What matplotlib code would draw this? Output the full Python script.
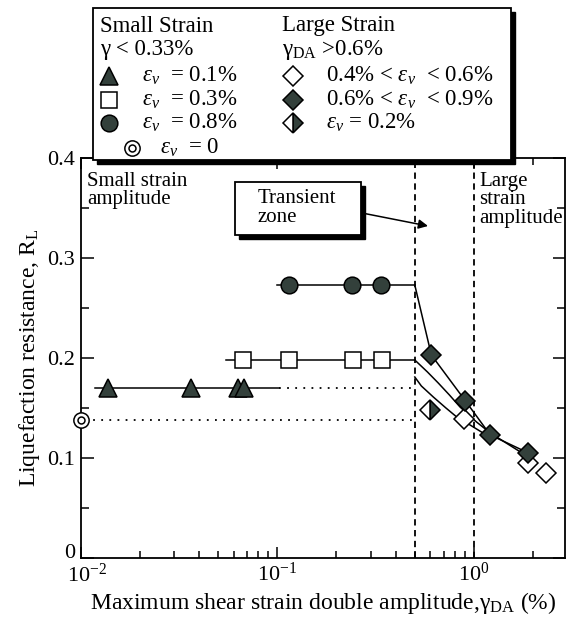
import numpy as np
import matplotlib
matplotlib.use("Agg")
import matplotlib.pyplot as plt
from matplotlib.patches import Rectangle
from matplotlib.transforms import ScaledTranslation
from matplotlib.ticker import LogLocator, MultipleLocator, FixedLocator, FixedFormatter

plt.rcParams['font.family'] = ['Liberation Serif', 'DejaVu Serif']
plt.rcParams['mathtext.fontset'] = 'custom'
plt.rcParams['mathtext.rm'] = 'Liberation Serif'
plt.rcParams['mathtext.it'] = 'Liberation Serif:italic'
plt.rcParams['mathtext.bf'] = 'Liberation Serif:bold'

DARK = '#33403b'

# small strain tests (gamma < 0.33%)
tri_x = [0.0138, 0.0366, 0.063, 0.068]
tri_y = [0.170, 0.170, 0.170, 0.170]
sq_x = [0.0671, 0.115, 0.243, 0.340]
sq_y = [0.198, 0.198, 0.198, 0.198]
circ_x = [0.1146, 0.241, 0.336]
circ_y = [0.273, 0.273, 0.273]
zero_x = [0.01]
zero_y = [0.138]

# fitted levels
tri_fit_x = [0.0119, 0.102]
tri_fit_y = [0.170, 0.170]
tri_dot_x = [0.102, 0.5]
tri_dot_y = [0.170, 0.170]
zero_dot_x = [0.0105, 0.5]
zero_dot_y = [0.138, 0.138]
sq_fit_x = [0.055, 0.5]
sq_fit_y = [0.198, 0.198]
circ_fit_x = [0.1, 0.5]
circ_fit_y = [0.273, 0.273]

# large strain tests (gamma_DA > 0.6%)
wd_x = [0.89, 1.89, 2.32]
wd_y = [0.139, 0.095, 0.085]
dd_x = [0.607, 0.905, 1.21, 1.89]
dd_y = [0.203, 0.157, 0.123, 0.105]
hd_x = [0.597]
hd_y = [0.148]

# decay curves in the large strain range
curve_a_x = [0.5, 0.607, 0.905, 1.21, 1.89]
curve_a_y = [0.273, 0.203, 0.157, 0.123, 0.105]
curve_b_x = [0.5, 0.58, 0.658, 0.75, 0.849, 1.03, 1.21, 1.89]
curve_b_y = [0.198, 0.186, 0.175, 0.163, 0.151, 0.136, 0.125, 0.101]
curve_c_x = [0.5, 0.54, 0.621, 0.72, 0.817, 0.955, 1.2]
curve_c_y = [0.181, 0.172, 0.161, 0.150, 0.141, 0.133, 0.121]

zone_x = [0.5, 1.0]

W, H = 566, 618
fig = plt.figure(figsize=(W / 100, H / 100), dpi=100)
ax = fig.add_axes([80.5 / W, 60 / H, (565 - 80.5) / W, 400 / H])

ax.set_xscale('log')
ax.set_xlim(0.01, 2.9)
ax.set_ylim(0, 0.4)

for xv in zone_x:
    ax.axvline(xv, color='black', lw=1.3, ls=(0, (3.5, 2.5)), zorder=1)

ax.plot(tri_dot_x, tri_dot_y, color='black', lw=1.3, ls=(0, (1, 3.5)), zorder=1)
ax.plot(zero_dot_x, zero_dot_y, color='black', lw=1.3, ls=(0, (1, 3.5)), zorder=1)
ax.plot(tri_fit_x, tri_fit_y, color='black', lw=1.1, zorder=2)
ax.plot(sq_fit_x, sq_fit_y, color='black', lw=1.1, zorder=2)
ax.plot(circ_fit_x, circ_fit_y, color='black', lw=1.1, zorder=2)
ax.plot(curve_a_x, curve_a_y, color='black', lw=1.1, zorder=2)
ax.plot(curve_b_x, curve_b_y, color='black', lw=1.1, zorder=2)
ax.plot(curve_c_x, curve_c_y, color='black', lw=1.1, zorder=2)

mk = dict(ls='none', mec='black', mew=1.1, zorder=3)
ax.plot(tri_x, tri_y, marker='^', ms=13, mfc=DARK, **mk)
ax.plot(sq_x, sq_y, marker='s', ms=11, mfc='white', **mk)
ax.plot(circ_x, circ_y, marker='o', ms=12, mfc=DARK, **mk)
ax.plot(wd_x, wd_y, marker='D', ms=10, mfc='white', **mk)
ax.plot(dd_x, dd_y, marker='D', ms=10, mfc=DARK, **mk)
ax.plot(hd_x, hd_y, marker='D', ms=10, mfc=DARK, fillstyle='right',
        markerfacecoloralt='white', **mk)
ax.plot(zero_x, zero_y, marker='o', ms=11, mfc='white', clip_on=False, **mk)
ax.plot(zero_x, zero_y, marker='o', ms=5, mfc='white', clip_on=False, **mk)

for s in ax.spines.values():
    s.set_linewidth(1.3)

ax.xaxis.set_major_locator(FixedLocator([0.01, 0.1, 1.0]))
ax.xaxis.set_major_formatter(FixedFormatter([r'$10^{-2}$', r'$10^{-1}$', r'$10^{0}$']))
ax.xaxis.set_minor_locator(LogLocator(base=10, subs=np.arange(2, 10), numticks=20))
ax.xaxis.set_minor_formatter(FixedFormatter([]))
ax.yaxis.set_major_locator(FixedLocator([0, 0.1, 0.2, 0.3, 0.4]))
ax.yaxis.set_major_formatter(FixedFormatter(['0', '0.1', '0.2', '0.3', '0.4']))
ax.yaxis.set_minor_locator(MultipleLocator(0.05))

ax.tick_params(which='both', direction='in', top=True, right=True, labelsize=16,
               width=1.1)
ax.tick_params(axis='y', which='major', length=9, pad=4)
ax.tick_params(axis='y', which='minor', length=6)
ax.tick_params(axis='x', which='major', length=8, pad=3)
ax.tick_params(axis='x', which='minor', length=5)

# nudge the "0" up and the first decade label right so they do not collide
fig.canvas.draw()
ylabs = ax.get_yticklabels()
ylabs[0].set_transform(ylabs[0].get_transform() + ScaledTranslation(0, 5 / 72, fig.dpi_scale_trans))
xlabs = ax.get_xticklabels()
xlabs[0].set_transform(xlabs[0].get_transform() + ScaledTranslation(5 / 72, -1 / 72, fig.dpi_scale_trans))

ax.set_xlabel(r'Maximum shear strain double amplitude,γ$_{\mathrm{DA}}$ (%)',
              fontsize=17, labelpad=2)
ax.set_ylabel(r'Liquefaction resistance, R$_{\mathrm{L}}$', fontsize=17, labelpad=4)

ax.text(0.013, 0.965, 'Small strain\namplitude', transform=ax.transAxes,
        fontsize=15, va='top', ha='left', linespacing=0.95)
ax.text(0.823, 0.965, 'Large\nstrain\namplitude', transform=ax.transAxes,
        fontsize=15, va='top', ha='left', linespacing=0.95)

# overlay in pixel coordinates for the legend and the boxed note
ov = fig.add_axes([0, 0, 1, 1], zorder=5)
ov.set_xlim(0, W)
ov.set_ylim(H, 0)
ov.axis('off')


def shadow_box(x0, y0, x1, y1, off=3.5):
    ov.add_patch(Rectangle((x0 + off, y0 + off), x1 - x0, y1 - y0,
                           facecolor='black', edgecolor='black', lw=1.0))
    ov.add_patch(Rectangle((x0, y0), x1 - x0, y1 - y0,
                           facecolor='white', edgecolor='black', lw=1.3))


shadow_box(93, 8, 511, 160)
shadow_box(235, 182, 361, 235)
ov.text(258, 208, 'Transient\nzone', fontsize=15, va='center', ha='left',
        linespacing=0.95)
ov.annotate('', xy=(428, 226), xytext=(362, 213),
            arrowprops=dict(arrowstyle='-|>', color='black', lw=1.1,
                            mutation_scale=14, shrinkA=0, shrinkB=0))

fs = 16.5
ov.text(100, 26, 'Small Strain', fontsize=fs, va='center', ha='left')
ov.text(100, 50, 'γ < 0.33%', fontsize=fs, va='center', ha='left')
ov.text(282, 26, 'Large Strain', fontsize=fs, va='center', ha='left')
ov.text(282, 50, r'γ$_{\mathrm{DA}}$ >0.6%', fontsize=fs, va='center', ha='left')

lk = dict(ls='none', mec='black', mew=1.1, clip_on=False)
ov.plot([109], [76], marker='^', ms=13, mfc=DARK, **lk)
ov.plot([109], [100], marker='s', ms=11, mfc='white', **lk)
ov.plot([109], [123], marker='o', ms=12, mfc=DARK, **lk)
ov.plot([132], [148], marker='o', ms=11, mfc='white', **lk)
ov.plot([132], [148], marker='o', ms=5, mfc='white', **lk)
ov.plot([293], [76], marker='D', ms=10, mfc='white', **lk)
ov.plot([293], [100], marker='D', ms=10, mfc=DARK, **lk)
ov.plot([293], [123], marker='D', ms=10, mfc=DARK, fillstyle='right',
        markerfacecoloralt='white', **lk)

ov.text(142, 76, r'$\varepsilon_v$  = 0.1%', fontsize=fs, va='center', ha='left')
ov.text(142, 100, r'$\varepsilon_v$  = 0.3%', fontsize=fs, va='center', ha='left')
ov.text(142, 123, r'$\varepsilon_v$  = 0.8%', fontsize=fs, va='center', ha='left')
ov.text(160, 148, r'$\varepsilon_v$  = 0', fontsize=fs, va='center', ha='left')
ov.text(326, 76, r'0.4% < $\varepsilon_v$  < 0.6%', fontsize=fs, va='center', ha='left')
ov.text(326, 100, r'0.6% < $\varepsilon_v$  < 0.9%', fontsize=fs, va='center', ha='left')
ov.text(326, 123, r'$\varepsilon_v$ = 0.2%', fontsize=fs, va='center', ha='left')

fig.savefig('out.png', dpi=100)
